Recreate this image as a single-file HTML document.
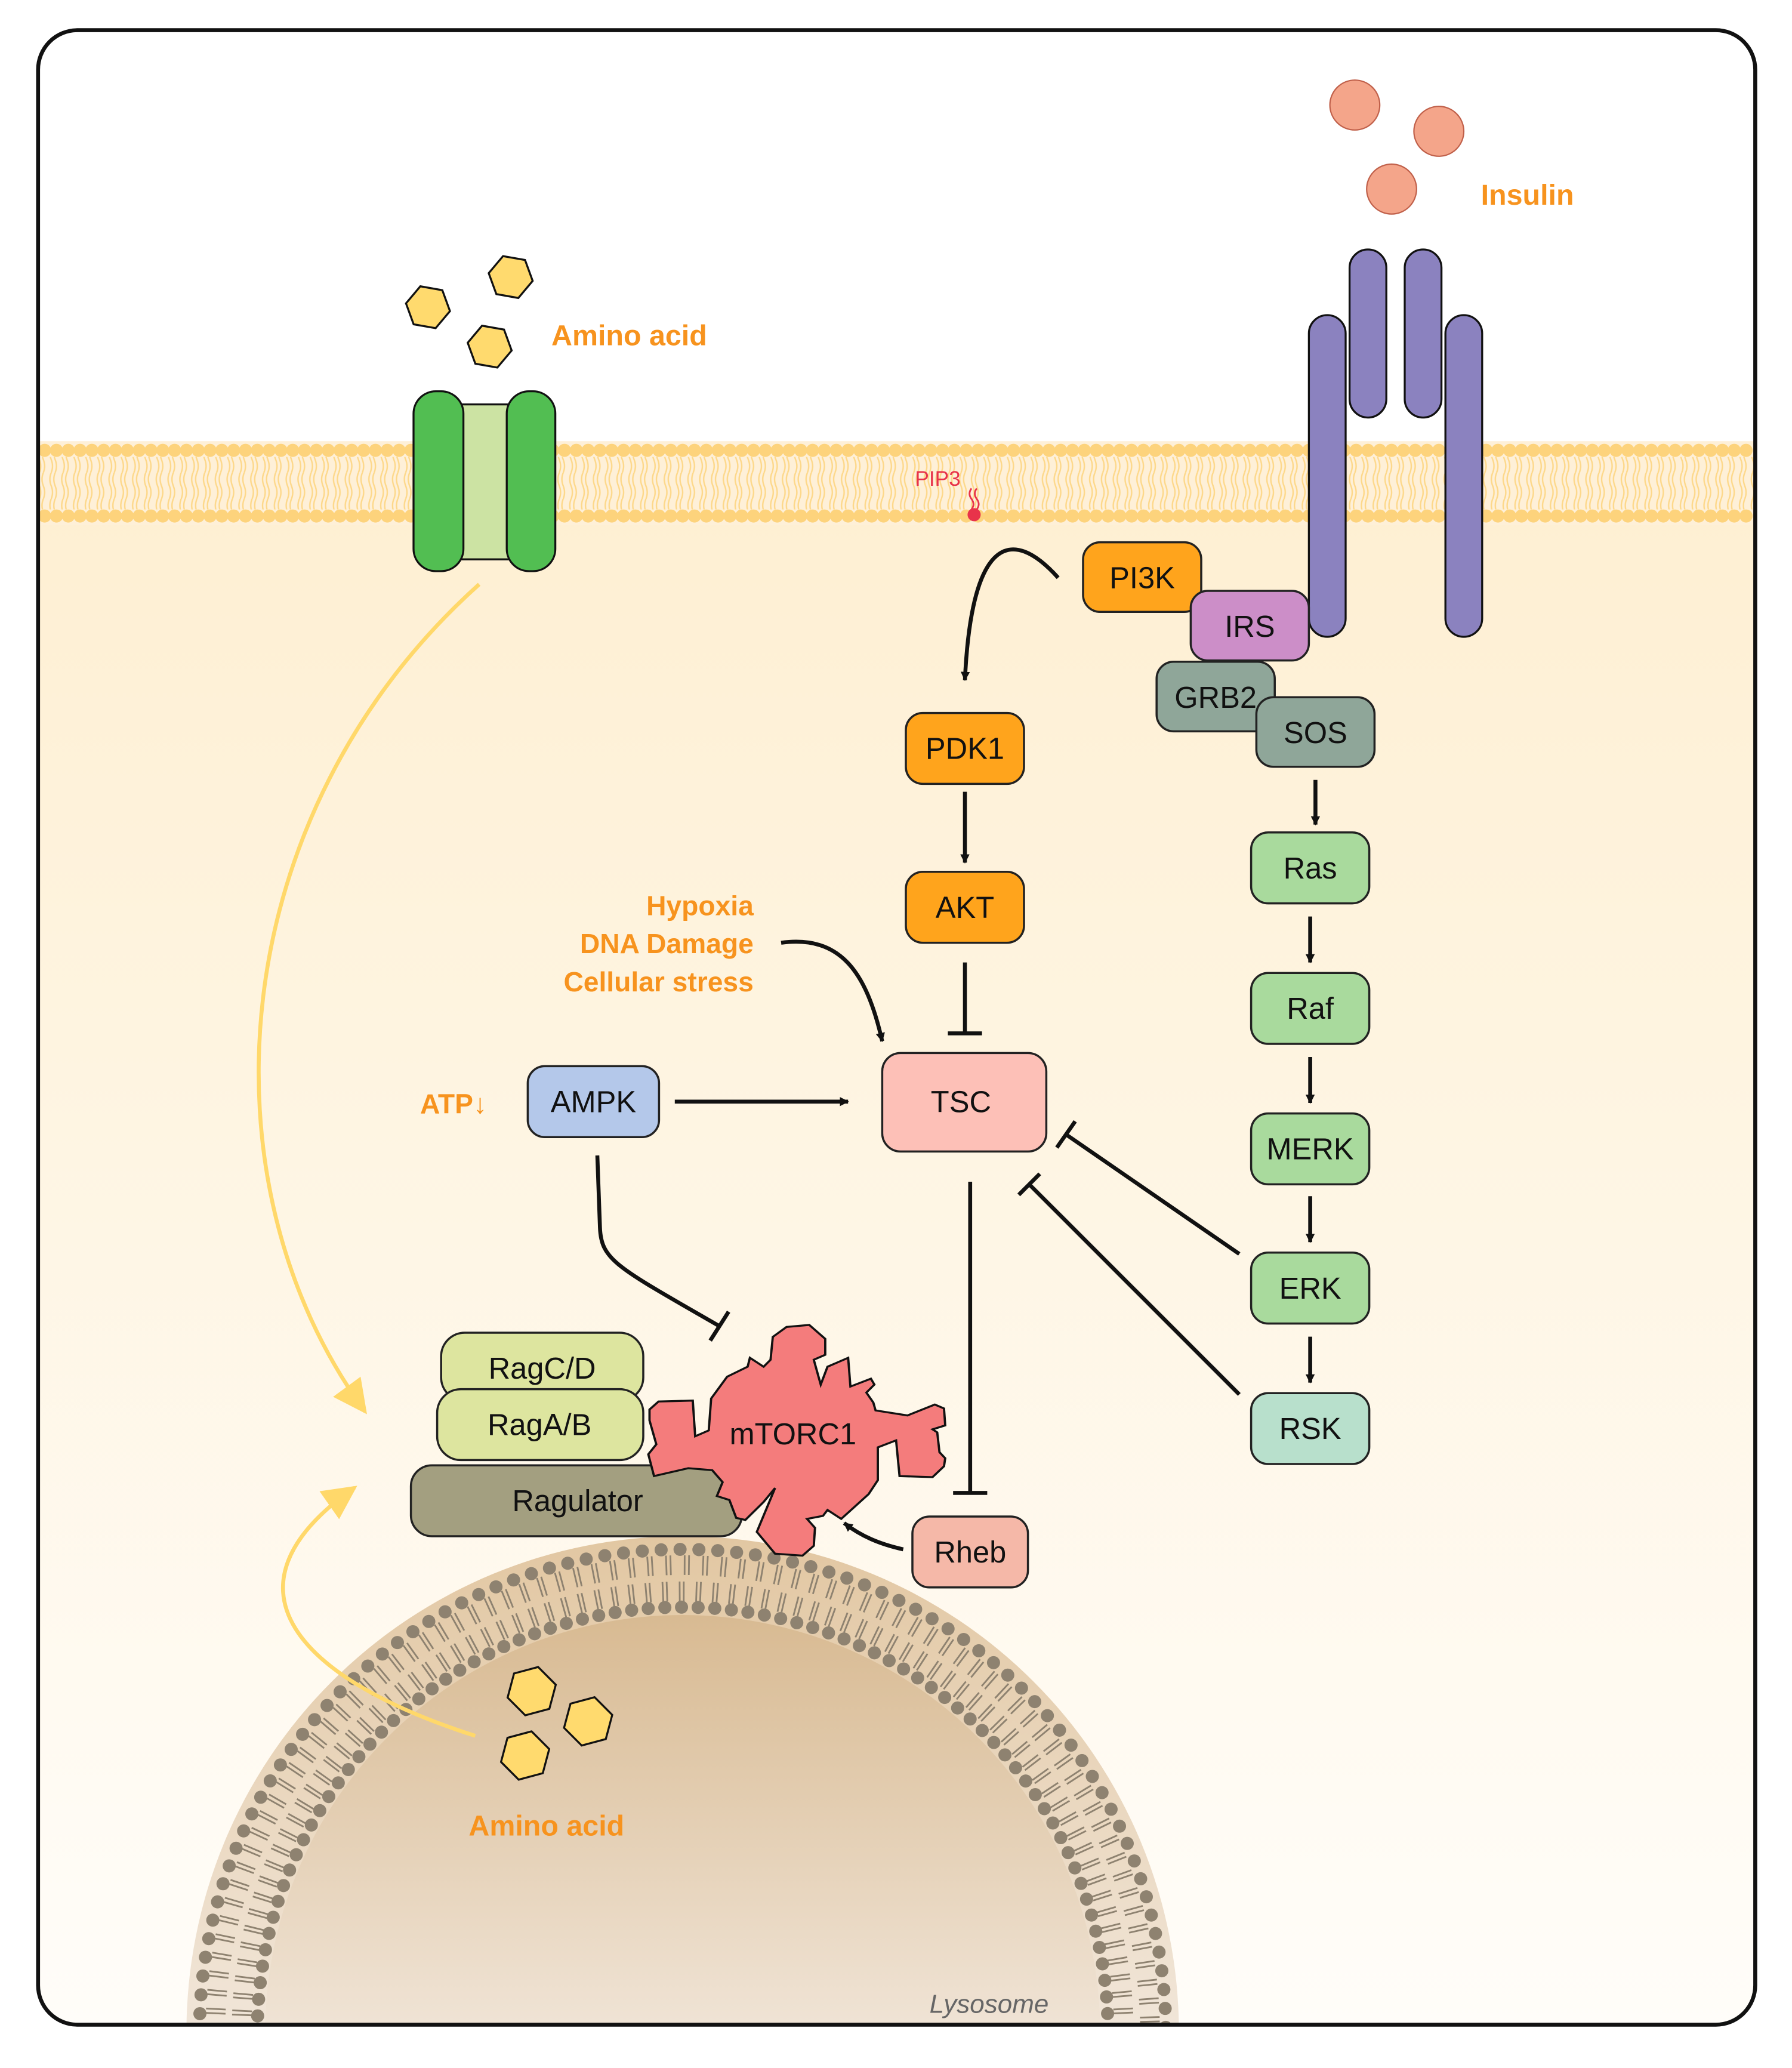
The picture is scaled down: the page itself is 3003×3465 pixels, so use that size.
<!DOCTYPE html>
<html><head><meta charset="utf-8">
<style>html,body{margin:0;padding:0;background:#fff;width:3003px;height:3465px;overflow:hidden}svg{display:block;position:absolute;left:0;top:0}
text{font-family:"Liberation Sans",sans-serif}</style></head>
<body>
<svg width="3003" height="3465" viewBox="0 0 1365 1575" xmlns="http://www.w3.org/2000/svg">
<defs>
<linearGradient id="cyto" x1="0" y1="0" x2="0" y2="1">
<stop offset="0" stop-color="#FEEFD2"/><stop offset="1" stop-color="#FFFDF9"/></linearGradient>
<linearGradient id="lys" x1="0" y1="0" x2="0" y2="1">
<stop offset="0" stop-color="#D8BA92"/><stop offset="1" stop-color="#F0E4D6"/></linearGradient>
<linearGradient id="lysb" x1="0" y1="0" x2="0" y2="1">
<stop offset="0" stop-color="#E2C7A2"/><stop offset="1" stop-color="#F1E6D9"/></linearGradient>
<pattern id="tails" width="9" height="20" patternUnits="userSpaceOnUse">
<path d="M3 0 q-2 5 0 10 q2 5 0 10 M6 0 q-2 5 0 10 q2 5 0 10" fill="none" stroke="#FDD88A" stroke-width="1.1"/>
</pattern>
<clipPath id="frame"><rect x="29" y="23" width="1308" height="1519" rx="30"/></clipPath>
<marker id="ar" viewBox="0 0 10 10" refX="9" refY="5" markerWidth="7" markerHeight="7" orient="auto" markerUnits="userSpaceOnUse">
<path d="M0 0 L10 5 L0 10 z" fill="#111"/></marker>
<marker id="ya" viewBox="0 0 10 10" refX="9" refY="5" markerWidth="26" markerHeight="26" orient="auto" markerUnits="userSpaceOnUse">
<path d="M0 0 L10 5 L0 10 z" fill="#FFD86A"/></marker>
</defs>

<g clip-path="url(#frame)">
<rect x="29" y="23" width="1308" height="1519" fill="#fff"/>
<rect x="29" y="368" width="1308" height="1174" fill="url(#cyto)"/>
<rect x="30" y="336" width="1306" height="64" fill="#FEF0D8"/>
<rect x="30" y="348" width="1306" height="40" fill="url(#tails)"/>
<line x1="34" y1="343" x2="1336" y2="343" stroke="#FDD37C" stroke-width="10" stroke-dasharray="0 9" stroke-linecap="round"/>
<line x1="34" y1="393" x2="1336" y2="393" stroke="#FDD37C" stroke-width="10" stroke-dasharray="0 9" stroke-linecap="round"/>
<path d="M142 1548 A378 378 0 0 1 898 1548 Z" fill="url(#lysb)"/>
<path d="M202 1548 A318 318 0 0 1 838 1548 Z" fill="url(#lys)"/>
<path d="M164 1548 A356 356 0 0 1 876 1548" fill="none" stroke="#8E8270" stroke-width="15" stroke-dasharray="1.3 2 1.3 9.4"/>
<path d="M184 1548 A336 336 0 0 1 856 1548" fill="none" stroke="#8E8270" stroke-width="15" stroke-dasharray="1.3 1.8 1.3 8.4"/>
<path d="M152 1548 A368 368 0 0 1 888 1548" fill="none" stroke="#8E8270" stroke-width="10" stroke-dasharray="0 14.4" stroke-linecap="round"/>
<path d="M196 1548 A324 324 0 0 1 844 1548" fill="none" stroke="#8E8270" stroke-width="10" stroke-dasharray="0 12.7" stroke-linecap="round"/>
</g>
<rect x="29" y="23" width="1308" height="1519" rx="30" fill="none" stroke="#111" stroke-width="3"/>

<path d="M365 445 C170 620 150 900 278 1075" fill="none" stroke="#FFD86A" stroke-width="3" marker-end="url(#ya)"/>
<path d="M362 1322 C230 1280 160 1210 270 1133" fill="none" stroke="#FFD86A" stroke-width="3" marker-end="url(#ya)"/>

<g fill="#FFDA6E" stroke="#111" stroke-width="1.5">
<polygon points="343,234 334.5,248.7 317.5,248.7 309,234 317.5,219.3 334.5,219.3" transform="rotate(10 326 234)"/>
<polygon points="406,211 397.5,225.7 380.5,225.7 372,211 380.5,196.3 397.5,196.3" transform="rotate(10 389 211)"/>
<polygon points="390,264 381.5,278.7 364.5,278.7 356,264 364.5,249.3 381.5,249.3" transform="rotate(10 373 264)"/>
<polygon points="424,1288 414.5,1304.5 395.5,1304.5 386,1288 395.5,1271.5 414.5,1271.5" transform="rotate(-15 405 1288)"/>
<polygon points="467,1311 457.5,1327.5 438.5,1327.5 429,1311 438.5,1294.5 457.5,1294.5" transform="rotate(-15 448 1311)"/>
<polygon points="419,1337 409.5,1353.5 390.5,1353.5 381,1337 390.5,1320.5 409.5,1320.5" transform="rotate(-15 400 1337)"/>
</g>
<text x="420" y="263" font-size="22" fill="#F7931E" font-weight="bold">Amino acid</text>
<text x="357" y="1398" font-size="22" fill="#F7931E" font-weight="bold">Amino acid</text>

<rect x="349" y="308" width="42" height="118" fill="#CCE3A3" stroke="#111" stroke-width="1.5"/>
<rect x="315" y="298" width="38" height="137" rx="17" fill="#52BE52" stroke="#111" stroke-width="1.5"/>
<rect x="386" y="298" width="37" height="137" rx="17" fill="#52BE52" stroke="#111" stroke-width="1.5"/>

<g fill="#F4A58A" stroke="#C0604A" stroke-width="1">
<circle cx="1032" cy="80" r="19"/><circle cx="1096" cy="100" r="19"/><circle cx="1060" cy="144" r="19"/></g>
<text x="1128" y="156" font-size="22" fill="#F7931E" font-weight="bold">Insulin</text>

<g fill="#8B82BF" stroke="#111" stroke-width="1.5">
<rect x="997" y="240" width="28" height="245" rx="14"/>
<rect x="1028" y="190" width="28" height="128" rx="14"/>
<rect x="1070" y="190" width="28" height="128" rx="14"/>
<rect x="1101" y="240" width="28" height="245" rx="14"/>
</g>

<text x="697" y="370" font-size="16" fill="#E8334A">PIP3</text>
<path d="M740 372 q-3 4 0 8 q3 4 0 8 M744 372 q-3 4 0 8 q3 4 0 8" fill="none" stroke="#E8334A" stroke-width="1.3"/>
<circle cx="742" cy="392" r="5" fill="#E8334A"/>

<g fill="none" stroke="#111" stroke-width="3">
<path d="M806 440 C770 400 740 410 735 518" marker-end="url(#ar)"/>
<line x1="735" y1="603" x2="735" y2="657" marker-end="url(#ar)"/>
<line x1="735" y1="733" x2="735" y2="787"/><line x1="722" y1="787" x2="748" y2="787"/>
<path d="M595 718 C640 712 660 740 672 793" marker-end="url(#ar)"/>
<line x1="514" y1="839" x2="646" y2="839" marker-end="url(#ar)"/>
<path d="M455 880 L457 935 C458 960 470 965 548 1010"/>
<line x1="541" y1="1021" x2="555" y2="999"/>
<line x1="739" y1="900" x2="739" y2="1137"/><line x1="726" y1="1137" x2="752" y2="1137"/>
<path d="M688 1180 C670 1176 656 1170 643 1160" marker-end="url(#ar)"/>
<line x1="944" y1="955" x2="812" y2="864"/><line x1="805" y1="874" x2="819" y2="854"/>
<line x1="944" y1="1062" x2="784" y2="902"/><line x1="776" y1="910" x2="792" y2="894"/>
<line x1="1002" y1="594" x2="1002" y2="628" marker-end="url(#ar)"/>
<line x1="998" y1="698" x2="998" y2="733" marker-end="url(#ar)"/>
<line x1="998" y1="805" x2="998" y2="840" marker-end="url(#ar)"/>
<line x1="998" y1="911" x2="998" y2="946" marker-end="url(#ar)"/>
<line x1="998" y1="1018" x2="998" y2="1053" marker-end="url(#ar)"/>
</g>

<text font-size="21" fill="#F7931E" font-weight="bold" text-anchor="end">
<tspan x="574" y="697">Hypoxia</tspan><tspan x="574" y="726">DNA Damage</tspan><tspan x="574" y="755">Cellular stress</tspan></text>
<text x="320" y="848" font-size="21" fill="#F7931E" font-weight="bold">ATP↓</text>

<g stroke="#222" stroke-width="1.6">
<rect x="825" y="413" width="90" height="53" rx="13" fill="#FFA41C"/>
<rect x="907" y="450" width="90" height="53" rx="13" fill="#CC8EC8"/>
<rect x="881" y="504" width="90" height="53" rx="13" fill="#8FA699"/>
<rect x="957" y="531" width="90" height="53" rx="13" fill="#8FA699"/>
<rect x="690" y="543" width="90" height="54" rx="13" fill="#FFA41C"/>
<rect x="690" y="664" width="90" height="54" rx="13" fill="#FFA41C"/>
<rect x="953" y="634" width="90" height="54" rx="13" fill="#A9DA9D"/>
<rect x="953" y="741" width="90" height="54" rx="13" fill="#A9DA9D"/>
<rect x="953" y="848" width="90" height="54" rx="13" fill="#A9DA9D"/>
<rect x="953" y="954" width="90" height="54" rx="13" fill="#A9DA9D"/>
<rect x="953" y="1061" width="90" height="54" rx="13" fill="#B8E0CC"/>
<rect x="672" y="802" width="125" height="75" rx="14" fill="#FDC0B7"/>
<rect x="402" y="812" width="100" height="54" rx="13" fill="#B4C8EA"/>
<rect x="695" y="1155" width="88" height="54" rx="13" fill="#F5B8A8"/>
<rect x="336" y="1015" width="154" height="52" rx="18" fill="#DDE59F"/>
<rect x="333" y="1058" width="157" height="54" rx="18" fill="#DDE59F"/>
<rect x="313" y="1116" width="252" height="54" rx="16" fill="#A39F80"/>
<polygon fill="#F47C7C" stroke="#111" stroke-width="1.5" transform="translate(477.3 0) scale(1.148 1) translate(-477.3 0)" points="492.5,1073.5 498.5,1067.4 521.2,1066.7 522.8,1093.9 531.8,1089.4 533.4,1065.1 544,1048.5 557.6,1040.9 559.1,1034.1 568.2,1040.9 572.8,1035.6 574.3,1018.2 583.4,1010.6 598.5,1009.1 609.1,1019.7 609.1,1031.8 601.5,1035.6 606.1,1054.5 610.6,1040.9 624.3,1034.1 625.8,1056 639.4,1050 641.7,1054.5 636.4,1060.6 641,1068.2 642.5,1074.2 663.7,1078 681.8,1069.7 687.9,1072.7 688.7,1085.6 680.3,1088.6 683.4,1090.9 684.9,1106 688.7,1110.6 687.9,1116.7 680.3,1125 658.4,1124.2 656.1,1097 644,1102.3 644,1127.3 637.9,1137.9 619.7,1156.8 610.6,1150 607.6,1154.5 597,1156.8 602.3,1163.6 601.5,1177.3 594,1184.8 575.8,1183.3 563.7,1166.7 575.8,1133.3 568.2,1143.9 556.1,1157.6 550,1156 545.5,1142.4 537.2,1139.4 541,1128.8 534.1,1119.7 518.2,1118.2 495.5,1124.2 491.7,1107.6 497,1100 492.5,1081.8"/>
</g>
<g font-size="23" fill="#111" text-anchor="middle">
<text x="870" y="448">PI3K</text>
<text x="952" y="485">IRS</text>
<text x="926" y="539">GRB2</text>
<text x="1002" y="566">SOS</text>
<text x="735" y="578">PDK1</text>
<text x="735" y="699">AKT</text>
<text x="998" y="669">Ras</text>
<text x="998" y="776">Raf</text>
<text x="998" y="883">MERK</text>
<text x="998" y="989">ERK</text>
<text x="998" y="1096">RSK</text>
<text x="732" y="847">TSC</text>
<text x="452" y="847">AMPK</text>
<text x="739" y="1190">Rheb</text>
<text x="413" y="1050">RagC/D</text>
<text x="411" y="1093">RagA/B</text>
<text x="440" y="1151">Ragulator</text>
<text x="604" y="1100">mTORC1</text>
</g>
<text x="708" y="1533" font-size="20" font-style="italic" fill="#666">Lysosome</text>
</svg>
</body></html>
